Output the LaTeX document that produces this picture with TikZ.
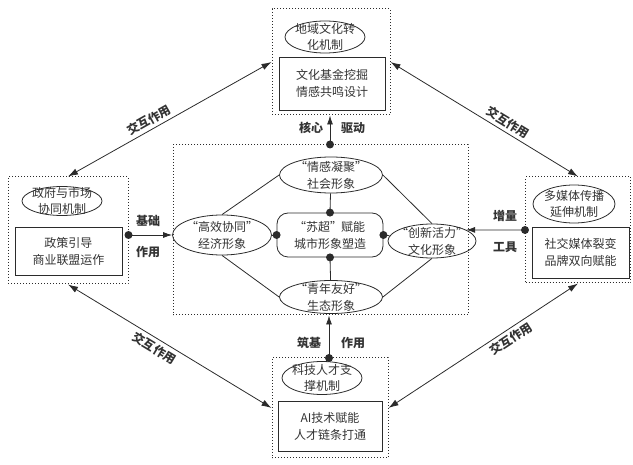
\documentclass[tikz,border=0pt]{standalone}
\usepackage{fontspec}
\usepackage{tikz}
\usetikzlibrary{arrows.meta, positioning, calc, shapes.geometric}
\newfontfamily\cjk{Noto Sans CJK SC}
\newcommand\lquo{\makebox[11pt][r]{“}}
\newcommand\rquo{\makebox[11pt][l]{”}}
\definecolor{InkGray}{HTML}{2B2B2B}
\definecolor{TextGray}{HTML}{333333}
\tikzset{
  grpbox/.style={draw=InkGray, dotted, line width=1pt, minimum width=#1},
  mechell/.style={ellipse, draw=InkGray, thick, align=center, inner xsep=-6pt, inner ysep=-6pt, font=\cjk\fontsize{12}{16}\selectfont, text=TextGray},
  measbox/.style={draw=InkGray, thick, align=center, inner sep=2pt, font=\cjk\fontsize{12}{17}\selectfont, text=TextGray},
  imgell/.style={ellipse, draw=InkGray, thick, align=center, inner xsep=-12pt, inner ysep=-5pt, font=\cjk\fontsize{12}{17}\selectfont, text=TextGray},
  corebox/.style={draw=InkGray, thick, rounded corners=11pt, align=center, inner sep=2pt, font=\cjk\fontsize{12}{17}\selectfont, text=TextGray},
  link/.style={draw=InkGray, thick},
  arrow/.style={-{Latex[length=9pt, width=6pt]}, thick, draw=InkGray},
  twoway/.style={{Latex[length=10pt, width=6.5pt]}-{Latex[length=10pt, width=6.5pt]}, thick, draw=InkGray},
  dot/.style={circle, fill=InkGray, inner sep=0pt, minimum size=8pt},
  lbl/.style={font=\cjk\bfseries\fontsize{12}{14}\selectfont, text=TextGray}
}
\begin{document}
\begin{tikzpicture}[x=1pt, y=-1pt]
\useasboundingbox (0,0) rectangle (633,465);
\node[grpbox=295pt, minimum height=170pt] (inner) at (320.5,230) {};
\node[corebox, minimum width=106pt, minimum height=44pt] (core) at (330,235) {\lquo 苏超\rquo 赋能\\城市形象塑造};
\node[imgell, minimum width=103pt, minimum height=36pt] (social) at (331,175) {\lquo 情感凝聚\rquo\\社会形象};
\node[imgell, minimum width=103pt, minimum height=33pt] (ecol) at (331,297) {\lquo 青年友好\rquo\\生态形象};
\node[imgell, minimum width=99pt, minimum height=40pt] (econ) at (222,235) {\lquo 高效协同\rquo\\经济形象};
\node[imgell, minimum width=88pt, minimum height=34pt] (cult) at (432,241) {\lquo 创新活力\rquo\\文化形象};
\draw[link] (social) -- (core.north) node[dot] {};
\draw[link] (ecol) -- (core.south) node[dot] {};
\draw[link] (econ) -- (core.west) node[dot] {};
\draw[link] (cult) -- (core.east) node[dot] {};
\draw[link] (social.west) -- (econ.north);
\draw[link] (social.east) -- (cult.north);
\draw[link] (ecol.west) -- (econ.south);
\draw[link] (ecol.east) -- (cult.south);

\node[grpbox=118pt, minimum height=106pt] (topgrp) at (331,62) {};
\node[mechell, minimum width=80pt, minimum height=32pt] (topmech) at (325,37) {地域文化转\\化机制};
\node[measbox, minimum width=106pt, minimum height=53pt] (topmeas) at (332,83.5) {文化基金挖掘\\情感共鸣设计};

\node[grpbox=120pt, minimum height=107pt] (leftgrp) at (68,230.5) {};
\node[mechell, minimum width=80pt, minimum height=29pt] (leftmech) at (62,201) {政府与市场\\协同机制};
\node[measbox, minimum width=107pt, minimum height=48pt] (leftmeas) at (68.5,251) {政策引导\\商业联盟运作};

\node[grpbox=105pt, minimum height=106pt] (rightgrp) at (578,230) {};
\node[mechell, minimum width=82pt, minimum height=38pt] (rightmech) at (574,204) {多媒体传播\\延伸机制};
\node[measbox, minimum width=97pt, minimum height=51pt] (rightmeas) at (580.5,252.5) {社交媒体裂变\\品牌双向赋能};

\node[grpbox=116pt, minimum height=100pt] (botgrp) at (330,408) {};
\node[mechell, minimum width=80pt, minimum height=33pt] (botmech) at (322,378) {科技人才支\\撑机制};
\node[measbox, minimum width=104pt, minimum height=50pt] (botmeas) at (330,426) {AI技术赋能\\人才链条打通};

\node[dot] (topdot) at (core |- inner.north) {};
\draw[arrow] (topdot.center) -- (core |- topgrp.south);
\node[lbl] at (311,128) {核心};
\node[lbl] at (353,128) {驱动};

\node[dot] (botdot) at (329,358) {};
\draw[arrow] (botdot.center) -- (botdot |- inner.south);
\node[lbl] at (309,343) {筑基};
\node[lbl] at (353,343) {作用};

\node[dot] (leftdot) at (leftgrp.east |- core) {};
\draw[arrow] (leftdot.center) -- (econ.west);
\node[lbl] at (148,221) {基础};
\node[lbl] at (148,252) {作用};

\node[dot] (rightdot) at (rightgrp.west |- 0,230) {};
\draw[arrow] (rightdot.center) -- (cult.18);
\node[lbl] at (505,216) {增量};
\node[lbl] at (505,247) {工具};

\draw[twoway] (leftgrp.north) -- node[lbl, sloped, above, pos=0.42] {交互作用} (topgrp.west);
\draw[twoway] (topgrp.east) -- node[lbl, sloped, above, pos=0.6] {交互作用} (rightgrp.north);
\draw[twoway] (leftgrp.south) -- node[lbl, sloped, below, pos=0.45] {交互作用} (botgrp.west);
\draw[twoway] (botgrp.east) -- node[lbl, sloped, below, pos=0.62] {交互作用} (rightgrp.south);
\end{tikzpicture}
\end{document}
